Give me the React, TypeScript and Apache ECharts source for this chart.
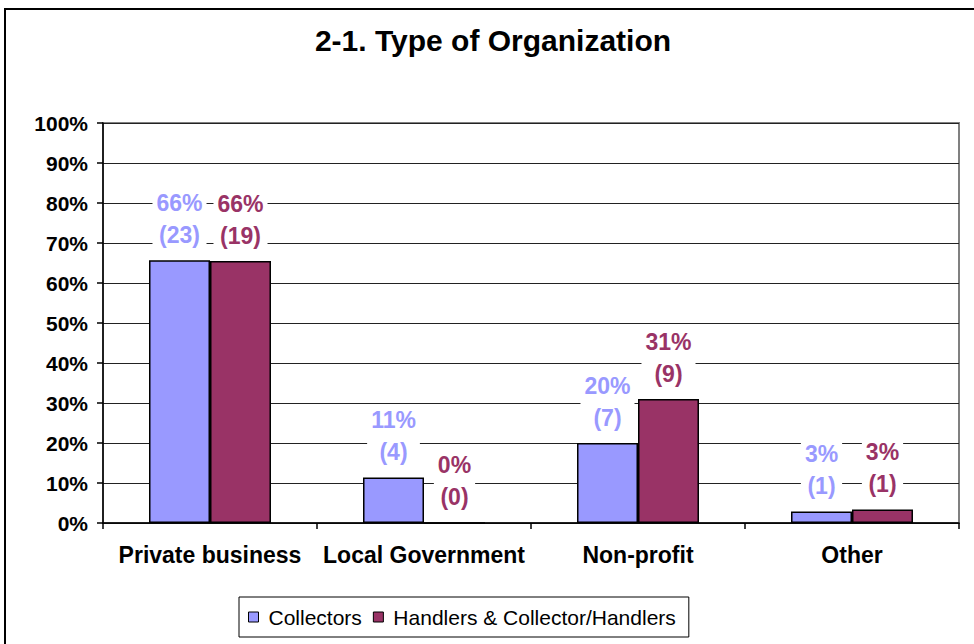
import React, { useEffect, useRef } from "react";
import * as echarts from "echarts";

const categories = ["Private business", "Local Government", "Non-profit", "Other"];
const collectorsPct = [65.7, 11.4, 20.0, 2.9];
const collectorsCount = [23, 4, 7, 1];
const handlersPct = [65.5, 0, 31.0, 3.4];
const handlersCount = [19, 0, 9, 1];
const yTicks = [0, 10, 20, 30, 40, 50, 60, 70, 80, 90, 100];

const FONT = "'Liberation Sans', Arial, sans-serif";
const C1 = "#9999FF";
const C2 = "#993366";

export default function App() {
  const ref = useRef<HTMLDivElement>(null);
  useEffect(() => {
    if (!ref.current) return;
    const chart = echarts.init(ref.current, undefined, { renderer: "svg" });
    const mkLabel = (color: string, counts: number[]) => ({
      show: true,
      position: "top",
      distance: 9,
      formatter: (p: any) => `${Math.round(p.value)}%\n(${counts[p.dataIndex]})`,
      color,
      fontFamily: FONT,
      fontWeight: "bold",
      fontSize: 23,
      lineHeight: 32,
      backgroundColor: "#fff",
      padding: [0, 4, 0, 4],
    });
    chart.setOption({
      animation: false,
      backgroundColor: "#fff",
      title: {
        text: "2-1. Type of Organization",
        left: 488,
        textAlign: "center",
        top: 20,
        textStyle: { fontFamily: FONT, fontWeight: "bold", fontSize: 30, color: "#000" },
      },
      graphic: [
        {
          type: "rect",
          shape: { x: 5, y: 9, width: 1000, height: 1000 },
          style: { fill: "none", stroke: "#000", lineWidth: 2 },
          silent: true,
        },
      ],
      legend: {
        left: 239,
        top: 597,
        orient: "horizontal",
        data: ["Collectors", "Handlers & Collector/Handlers"],
        icon: "rect",
        itemWidth: 10,
        itemHeight: 10,
        itemGap: 11,
        padding: [9, 13, 9, 9],
        borderColor: "#000",
        borderWidth: 1,
        itemStyle: { borderColor: "#000", borderWidth: 1 },
        textStyle: {
          fontFamily: FONT,
          fontSize: 21,
          color: "#000",
          lineHeight: 22,
          padding: [0, 0, 0, 5],
        },
      },
      grid: {
        left: 103,
        top: 123,
        right: 15,
        bottom: 121,
        show: true,
        borderColor: "#808080",
        borderWidth: 2,
        backgroundColor: "#fff",
      },
      xAxis: {
        type: "category",
        data: categories,
        axisLine: { lineStyle: { color: "#000", width: 1.5 } },
        axisTick: { show: true, length: 6, lineStyle: { color: "#000", width: 1.5 } },
        axisLabel: {
          margin: 20,
          fontFamily: FONT,
          fontWeight: "bold",
          fontSize: 23,
          color: "#000",
          interval: 0,
        },
      },
      yAxis: {
        type: "value",
        min: 0,
        max: 100,
        interval: 10,
        axisLine: { show: true, lineStyle: { color: "#000", width: 1.5 } },
        axisTick: { show: true, length: 6, lineStyle: { color: "#000", width: 1.5 } },
        splitLine: { lineStyle: { color: "#222", width: 1 } },
        axisLabel: {
          margin: 15,
          formatter: (v: number) => (yTicks.includes(v) ? `${v}%` : ""),
          fontFamily: FONT,
          fontWeight: "bold",
          fontSize: 21,
          color: "#000",
        },
      },
      series: [
        {
          name: "Collectors",
          type: "bar",
          data: collectorsPct,
          barGap: "0%",
          barCategoryGap: "43%",
          itemStyle: { color: C1, borderColor: "#000", borderWidth: 1.5 },
          label: mkLabel(C1, collectorsCount),
        },
        {
          name: "Handlers & Collector/Handlers",
          type: "bar",
          data: handlersPct,
          barGap: "0%",
          barCategoryGap: "43%",
          itemStyle: { color: C2, borderColor: "#000", borderWidth: 1.5 },
          label: mkLabel(C2, handlersCount),
        },
      ],
    });
    return () => chart.dispose();
  }, []);
  return (
    <div
      ref={ref}
      style={{ position: "fixed", left: 0, top: 0, width: 974, height: 644 }}
    />
  );
}
